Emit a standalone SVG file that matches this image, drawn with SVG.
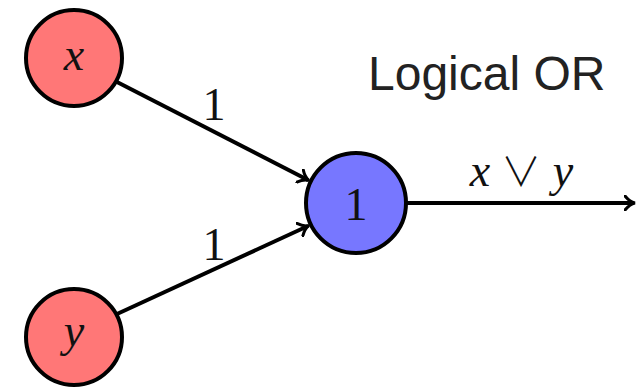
<svg xmlns="http://www.w3.org/2000/svg" width="644" height="390" viewBox="0 0 644 390">
<style>
.in{fill:#ff7777;stroke:#000;stroke-width:4}
.out{fill:#7777ff;stroke:#000;stroke-width:4}
.m{font-family:"Liberation Serif",serif;font-style:italic;font-size:46px;fill:#111}
.n{font-family:"Liberation Serif",serif;font-size:46px;fill:#111}
.op{font-family:"Noto Sans CJK SC","DejaVu Sans",sans-serif;font-style:normal;font-weight:300;font-size:40px;fill:#111}
.e{stroke:#000;stroke-width:4;fill:none}
.t{font-family:"Liberation Sans",Arial,sans-serif;font-size:48px;fill:#222}
</style>
<defs>
<marker id="ar" markerWidth="14" markerHeight="16" refX="10" refY="8" orient="auto" markerUnits="userSpaceOnUse">
<path d="M1,1 Q6,7 11,8 Q6,9 1,15" fill="none" stroke="#000" stroke-width="3" stroke-linecap="round"/>
</marker>
</defs>
<g id="connectors">
<line class="e" x1="117" y1="82" x2="308" y2="180" marker-end="url(#ar)"/>
<line class="e" x1="117" y1="314" x2="308" y2="226" marker-end="url(#ar)"/>
<line class="e" x1="406" y1="203" x2="634" y2="203" marker-end="url(#ar)"/>
<text class="n" x="214" y="120" text-anchor="middle">1</text>
<text class="n" x="214" y="260" text-anchor="middle">1</text>
<text class="m" x="480" y="186" text-anchor="middle">x</text>
<text class="op" x="521" y="186" text-anchor="middle">∨</text>
<text class="m" x="563" y="186" text-anchor="middle">y</text>
</g>
<g id="node-x">
<circle class="in" cx="74" cy="58" r="48"/>
<text class="m" x="74" y="70" text-anchor="middle">x</text>
</g>
<g id="node-y">
<circle class="in" cx="74" cy="337" r="48"/>
<text class="m" x="74" y="346" text-anchor="middle">y</text>
</g>
<g id="node-out">
<circle class="out" cx="356" cy="203" r="50"/>
<text class="n" x="356" y="220" text-anchor="middle">1</text>
</g>
<text class="t" x="368" y="90">Logical OR</text>
</svg>
